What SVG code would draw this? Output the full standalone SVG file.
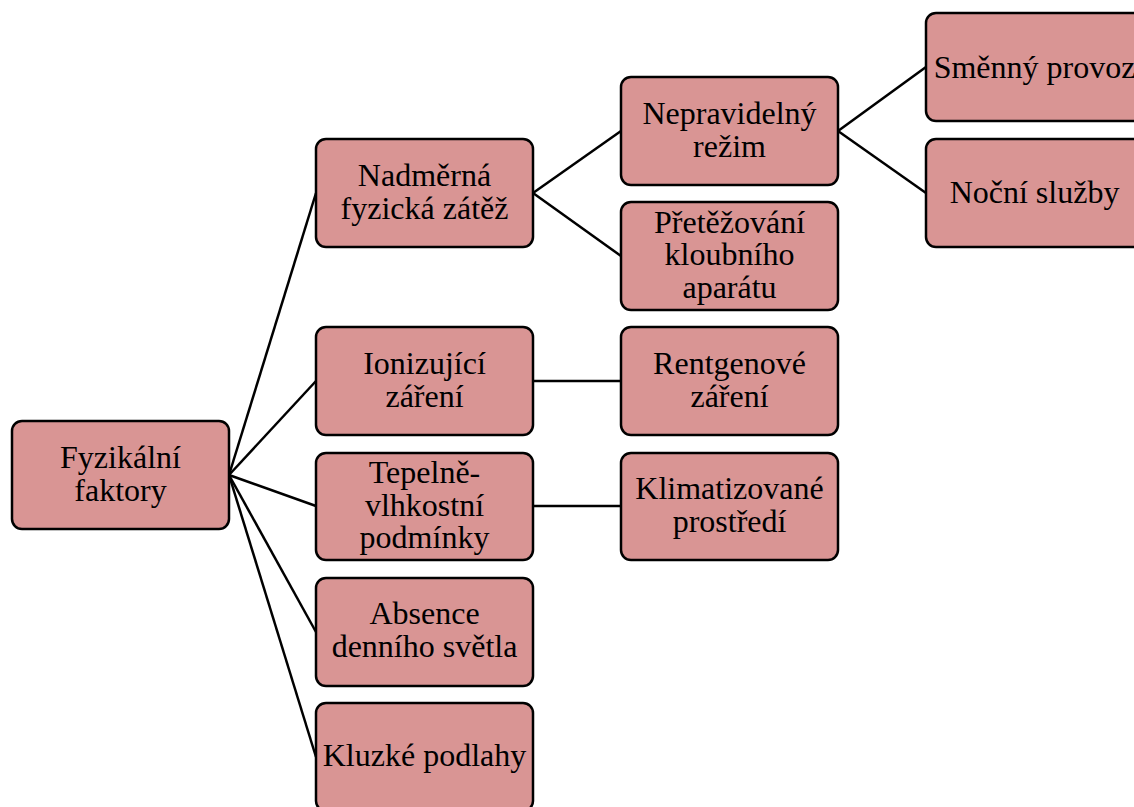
<svg xmlns="http://www.w3.org/2000/svg" width="1134" height="807" viewBox="0 0 1134 807">
  <style>
    .box { fill: #D99594; stroke: #000; stroke-width: 2.5; }
    .lbl { font-family: "Liberation Serif", "Times New Roman", serif; font-size: 32px; fill: #000; text-anchor: middle; }
    .edge { stroke: #000; stroke-width: 2.5; fill: none; }
  </style>
  <rect width="1134" height="807" fill="#fff"/>

  <!-- connectors -->
  <g id="connectors">
    <line class="edge" x1="229" y1="475" x2="316" y2="193"/>
    <line class="edge" x1="229" y1="475" x2="316" y2="381"/>
    <line class="edge" x1="229" y1="475" x2="316" y2="506"/>
    <line class="edge" x1="229" y1="475" x2="316" y2="632"/>
    <line class="edge" x1="229" y1="475" x2="316" y2="757"/>
    <line class="edge" x1="533" y1="193" x2="621" y2="131"/>
    <line class="edge" x1="533" y1="193" x2="621" y2="256"/>
    <line class="edge" x1="838" y1="131" x2="926" y2="67"/>
    <line class="edge" x1="838" y1="131" x2="926" y2="193"/>
    <line class="edge" x1="533" y1="381" x2="621" y2="381"/>
    <line class="edge" x1="533" y1="506" x2="621" y2="506"/>
  </g>

  <g id="fyzikalni-faktory">
    <rect class="box" x="12" y="421" width="217" height="108" rx="10"/>
    <text class="lbl" x="120.5" y="468">Fyzikální</text>
    <text class="lbl" x="120.5" y="501">faktory</text>
  </g>

  <g id="nadmerna-zatez">
    <rect class="box" x="316" y="139" width="217" height="108" rx="10"/>
    <text class="lbl" x="424.5" y="186">Nadměrná</text>
    <text class="lbl" x="424.5" y="219">fyzická zátěž</text>
  </g>

  <g id="ionizujici-zareni">
    <rect class="box" x="316" y="327" width="217" height="108" rx="10"/>
    <text class="lbl" x="424.5" y="374">Ionizující</text>
    <text class="lbl" x="424.5" y="407">záření</text>
  </g>

  <g id="tepelne-vlhkostni">
    <rect class="box" x="316" y="453" width="217" height="107" rx="10"/>
    <text class="lbl" x="424.5" y="483">Tepelně-</text>
    <text class="lbl" x="424.5" y="516">vlhkostní</text>
    <text class="lbl" x="424.5" y="548">podmínky</text>
  </g>

  <g id="absence-svetla">
    <rect class="box" x="316" y="578" width="217" height="108" rx="10"/>
    <text class="lbl" x="424.5" y="624">Absence</text>
    <text class="lbl" x="424.5" y="657">denního světla</text>
  </g>

  <g id="kluzke-podlahy">
    <rect class="box" x="316" y="703" width="217" height="108" rx="10"/>
    <text class="lbl" x="424.5" y="766">Kluzké podlahy</text>
  </g>

  <g id="nepravidelny-rezim">
    <rect class="box" x="621" y="77" width="217" height="108" rx="10"/>
    <text class="lbl" x="729.5" y="124">Nepravidelný</text>
    <text class="lbl" x="729.5" y="157">režim</text>
  </g>

  <g id="pretezovani">
    <rect class="box" x="621" y="202" width="217" height="108" rx="10"/>
    <text class="lbl" x="729.5" y="233">Přetěžování</text>
    <text class="lbl" x="729.5" y="265">kloubního</text>
    <text class="lbl" x="729.5" y="298">aparátu</text>
  </g>

  <g id="rentgenove-zareni">
    <rect class="box" x="621" y="327" width="217" height="108" rx="10"/>
    <text class="lbl" x="729.5" y="374">Rentgenové</text>
    <text class="lbl" x="729.5" y="407">záření</text>
  </g>

  <g id="klimatizovane">
    <rect class="box" x="621" y="453" width="217" height="107" rx="10"/>
    <text class="lbl" x="729.5" y="499">Klimatizované</text>
    <text class="lbl" x="729.5" y="532">prostředí</text>
  </g>

  <g id="smenny-provoz">
    <rect class="box" x="926" y="13" width="217" height="108" rx="10"/>
    <text class="lbl" x="1034.5" y="78">Směnný provoz</text>
  </g>

  <g id="nocni-sluzby">
    <rect class="box" x="926" y="139" width="217" height="108" rx="10"/>
    <text class="lbl" x="1034.5" y="203">Noční služby</text>
  </g>
</svg>
